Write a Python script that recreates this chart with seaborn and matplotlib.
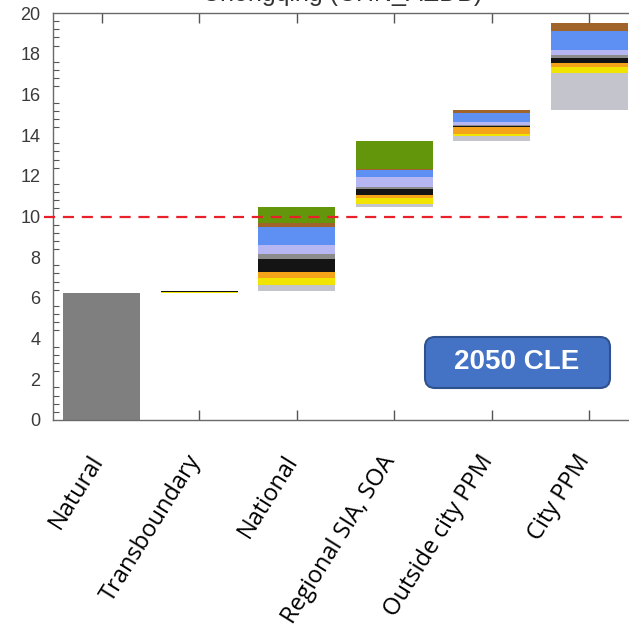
import matplotlib
matplotlib.use("Agg")
import matplotlib.pyplot as plt
import matplotlib.transforms as mtransforms
from matplotlib.patches import FancyBboxPatch
from matplotlib.ticker import MultipleLocator
import numpy as np
import pandas as pd
import seaborn as sns

# Source contributions (µg/m³) per step of the waterfall
categories = ["Natural", "Transboundary", "National", "Regional SIA, SOA",
              "Outside city PPM", "City PPM"]

natural   = [6.24, 0.00, 0.00, 0.00, 0.00, 0.00]
other     = [0.00, 0.00, 0.28, 0.14, 0.26, 1.81]
yellow    = [0.00, 0.05, 0.34, 0.29, 0.10, 0.29]
orange    = [0.00, 0.00, 0.29, 0.15, 0.34, 0.23]
black     = [0.00, 0.07, 0.64, 0.29, 0.07, 0.25]
grey      = [0.00, 0.00, 0.25, 0.10, 0.03, 0.13]
lavender  = [0.00, 0.00, 0.44, 0.49, 0.12, 0.25]
blue      = [0.00, 0.00, 0.88, 0.34, 0.48, 0.95]
brown     = [0.00, 0.00, 0.20, 0.05, 0.13, 0.36]
green     = [0.00, 0.00, 0.79, 1.38, 0.00, 0.00]

layers = [natural, other, yellow, orange, black, grey, lavender, blue, brown, green]
layer_colors = ["#7f7f7f", "#c4c4cc", "#f0e400", "#f5a41a", "#141414",
                "#8c8c8c", "#b6b6f2", "#5e8ff2", "#a0642a", "#64960c"]

threshold = 10
scenario = "2050 CLE"
title = "Chongqing (CHN_AEDB)"

sns.set_style("white")

fig = plt.figure(figsize=(6.29, 6.37), dpi=100)
ax = fig.add_axes([53 / 629, 1 - 420 / 637, 585 / 629, 407 / 637])

# waterfall: each category starts where the previous one ended
totals = np.sum(layers, axis=0)
start = np.concatenate([[0.0], np.cumsum(totals)[:-1]])
bottom = start.copy()
for vals, col in zip(layers, layer_colors):
    df = pd.DataFrame({"cat": categories, "val": vals})
    sns.barplot(data=df, x="cat", y="val", order=categories, color=col,
                width=0.79, bottom=bottom, linewidth=0, saturation=1,
                ax=ax, errorbar=None)
    bottom = bottom + np.asarray(vals)

ax.axhline(threshold, xmin=-0.015, xmax=1, color="#e8202a", lw=1.6,
           dashes=(5, 3.5), clip_on=False, zorder=5)

ax.set_xlim(-0.5, 5.5)
ax.set_ylim(0, 20)
ax.set_xlabel("")
ax.set_ylabel("")
ax.yaxis.set_major_locator(MultipleLocator(2))
ax.yaxis.set_minor_locator(MultipleLocator(0.4))

for side in ["left", "bottom", "top"]:
    ax.spines[side].set_color("#6a6a6a")
    ax.spines[side].set_linewidth(1.0)
ax.spines["right"].set_visible(False)

ax.tick_params(axis="y", which="major", direction="in", length=9, width=1,
               color="#555555", labelsize=13, labelcolor="#3a3a3a", pad=9)
ax.tick_params(axis="y", which="minor", direction="in", length=4.5, width=0.8,
               color="#555555", left=True)
ax.tick_params(axis="x", which="major", direction="in", length=7, width=1,
               color="#555555", top=True, bottom=True, pad=22)
for lbl in ax.get_yticklabels():
    lbl.set_family("Liberation Sans")

ax.set_xticks(range(len(categories)))
ax.set_xticklabels(categories, rotation=58, ha="right", rotation_mode="anchor",
                   fontsize=17, family="Open Sans", color="black")
# pull the slanted labels back so their ends sit under the ticks
shift = mtransforms.ScaledTranslation(-14 / 100, 0, fig.dpi_scale_trans)
for lbl in ax.get_xticklabels():
    lbl.set_transform(lbl.get_transform() + shift)

# scenario tag, drawn in pixel units so the corners stay round
box = FancyBboxPatch((425, 637 - 388), 185, 51,
                     boxstyle="round,pad=0,rounding_size=10",
                     transform=mtransforms.IdentityTransform(),
                     facecolor="#4472c4", edgecolor="#2f528f", linewidth=1.5,
                     zorder=6)
fig.patches.append(box)
fig.text(517 / 629, 1 - 362 / 637, scenario, color="white", fontsize=20,
         fontweight="bold", family="Liberation Sans", ha="center", va="center",
         zorder=7)

fig.text(342 / 629, 1 - 1 / 637, title, fontsize=18, family="Liberation Sans",
         color="#333333", ha="center", va="baseline")

fig.savefig("out.png", dpi=100, facecolor="white")
